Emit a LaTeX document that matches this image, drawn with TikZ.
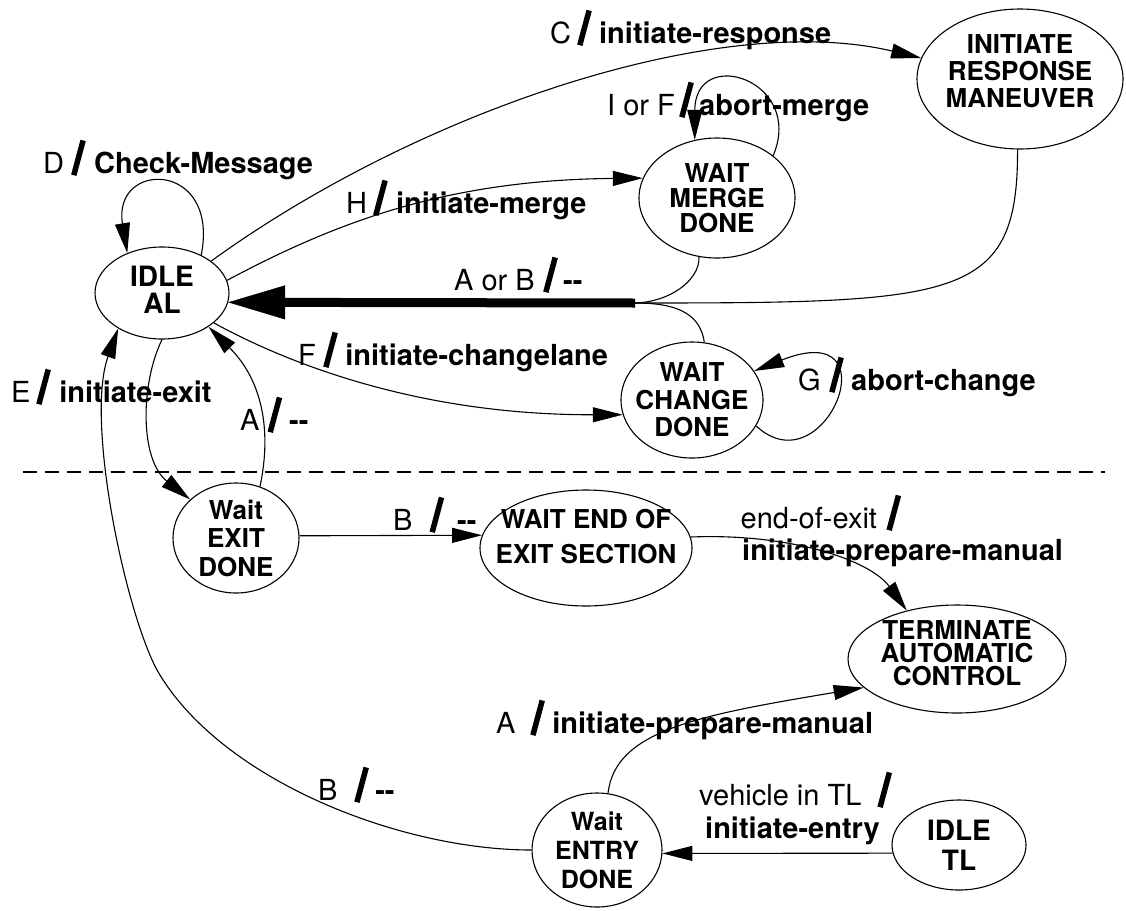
\documentclass[tikz,border=0pt]{standalone}
\usepackage{fontspec}
\setmainfont{TeX Gyre Heros}
\usepackage{graphicx}
\usetikzlibrary{arrows.meta,shapes.geometric}

% heavy slanted bar separating event and action
\newcommand\actslash{\raisebox{-1.5pt}{\rotatebox{-15}{\rule{5.5pt}{36pt}}}}
% event, gap before bar, gap after bar, action
\newcommand\trans[4]{#1\hspace{#2pt}\actslash\hspace{#3pt}{\bfseries #4}}
\newcommand\statefnt[2]{\fontsize{#1}{#2}\selectfont\bfseries}

\tikzset{
  state/.style={draw, ellipse, line width=1.1pt, inner sep=-30pt, align=center},
  edge/.style={line width=1.1pt, -{Triangle[length=30pt,width=15pt]}},
  plain/.style={line width=1.1pt},
  lab/.style={anchor=base west, inner sep=0pt, font=\fontsize{29}{31}\selectfont},
  sep/.style={line width=1.2pt, dash pattern=on 14pt off 8pt}
}

\begin{document}
\begin{tikzpicture}[x=1pt, y=-1pt]
\useasboundingbox (0,0) rectangle (1126,910);

% states
\node[state, minimum width=134pt, minimum height=92pt, font=\statefnt{28}{27}] (ial) at (162,293) {IDLE\\AL\rule[-7pt]{0pt}{0pt}};
\node[state, minimum width=206pt, minimum height=140pt, font=\statefnt{26}{27}] (irm) at (1020,79) {INITIATE\\RESPONSE\\MANEUVER\rule[-16pt]{0pt}{0pt}};
\node[state, minimum width=156pt, minimum height=120pt, font=\statefnt{26}{25}] (wmd) at (717,198) {WAIT\\MERGE\\DONE};
\node[state, minimum width=142pt, minimum height=116pt, font=\statefnt{26}{27.5}] (wcd) at (692,400) {WAIT\\CHANGE\\DONE};
\node[state, minimum width=126pt, minimum height=110pt, font=\statefnt{26}{28.5}] (wex) at (236,538) {Wait\\EXIT\\DONE};
\node[state, minimum width=212pt, minimum height=116pt, font=\statefnt{26}{35}] (wend) at (586,548) {WAIT END OF\\EXIT SECTION\rule[-24pt]{0pt}{0pt}};
\node[state, minimum width=218pt, minimum height=108pt, font=\statefnt{26}{23}] (tac) at (957,659) {TERMINATE\\AUTOMATIC\\CONTROL\rule[-11pt]{0pt}{0pt}};
\node[state, minimum width=134pt, minimum height=90pt, font=\statefnt{28}{30}] (itl) at (959,845) {IDLE\\TL};
\node[state, minimum width=130pt, minimum height=114pt, font=\statefnt{25}{29}] (wen) at (597,850) {Wait\\ENTRY\\DONE};

% helper points
\coordinate (join) at (635,303);
\coordinate (bend) at (157,670);
\coordinate (sepL) at (23,472);
\coordinate (sepR) at (1105,472);

% separator
\draw[sep] (sepL) -- (sepR);

% transitions
\draw[edge] (ial.44) .. controls (220,160) and (112,160) .. (ial.131);
\draw[edge] (ial.33) .. controls (420,110) and (720,10) .. (irm.168);
\draw[edge] (ial.11) .. controls (340,220) and (450,180) .. (wmd.165);
\draw[edge] (wmd.37) .. controls (805,80) and (695,45) .. (wmd.111);
\draw[plain] (wmd.-107) .. controls (700,280) and (670,302) .. (join);
\draw[plain] (irm.-92) .. controls (1018,300) and (960,303) .. (join);
\draw[plain] (wcd.78) .. controls (700,310) and (670,303) .. (join);
\draw[line width=9pt, -{Triangle[length=57pt,width=34pt,line width=0.5pt]}] (join) -- (ial.-8);
\draw[edge] (ial.-30) .. controls (300,370) and (430,415) .. (wcd.-168);
\draw[edge] (wcd.-22) .. controls (825,490) and (895,315) .. (wcd.25);
\draw[edge] (ial.-90) .. controls (140,385) and (140,460) .. (wex.140);
\draw[edge] (wex.65) .. controls (272,430) and (262,380) .. (ial.-36);
\draw[edge] (wex.2) -- (wend.173);
\draw[edge] (wend.6) .. controls (790,533) and (870,560) .. (tac.136);
\draw[edge] (wen.79) .. controls (615,730) and (700,715) .. (tac.-163);
\draw[edge] (itl.-173) -- (wen.-3);
\draw[edge] (wen.180) .. controls (400,850) and (220,780) .. (bend)
            .. controls (125,610) and (85,420) .. (ial.-141);

% transition labels
\node[lab] (lD) at (43,173) {\trans{D}{7}{8.4}{Check-Message}};
\node[lab] (lC) at (550,43) {\trans{C}{6}{7.4}{initiate-response}};
\node[lab] (lH) at (346,213) {\trans{H}{6}{8.4}{initiate-merge}};
\node[lab] (lI) at (607,115) {\trans{I or F}{4.3}{5.4}{abort-merge}};
\node[lab] (lAB) at (454,290) {\trans{A or B}{8.4}{5.4}{-{}-}};
\node[lab] (lF) at (298,365) {\trans{F}{7.3}{7.4}{initiate-changelane}};
\node[lab] (lG) at (798,390) {\trans{G}{8.4}{7.4}{abort-change}};
\node[lab] (lE) at (11,402) {\trans{E}{5.7}{8.4}{initiate-exit}};
\node[lab] (lA1) at (240,430) {\trans{A}{8}{7}{-{}-}};
\node[lab] (lB1) at (393,530) {\trans{B}{17}{13}{-{}-}};
\node[lab] (lX1) at (740.5,528) {end-of-exit\hspace{9.5pt}\actslash};
\node[lab] (lX2) at (742,560) {\bfseries initiate-prepare-manual};
\node[lab] (lA2) at (496,733) {\trans{A}{14.7}{7.4}{initiate-prepare-manual}};
\node[lab] (lV1) at (699,805) {vehicle in TL\hspace{16pt}\actslash};
\node[lab] (lV2) at (705,838) {\bfseries initiate-entry};
\node[lab] (lB2) at (318,800) {\trans{B}{16.7}{6.4}{-{}-}};
\end{tikzpicture}
\end{document}
